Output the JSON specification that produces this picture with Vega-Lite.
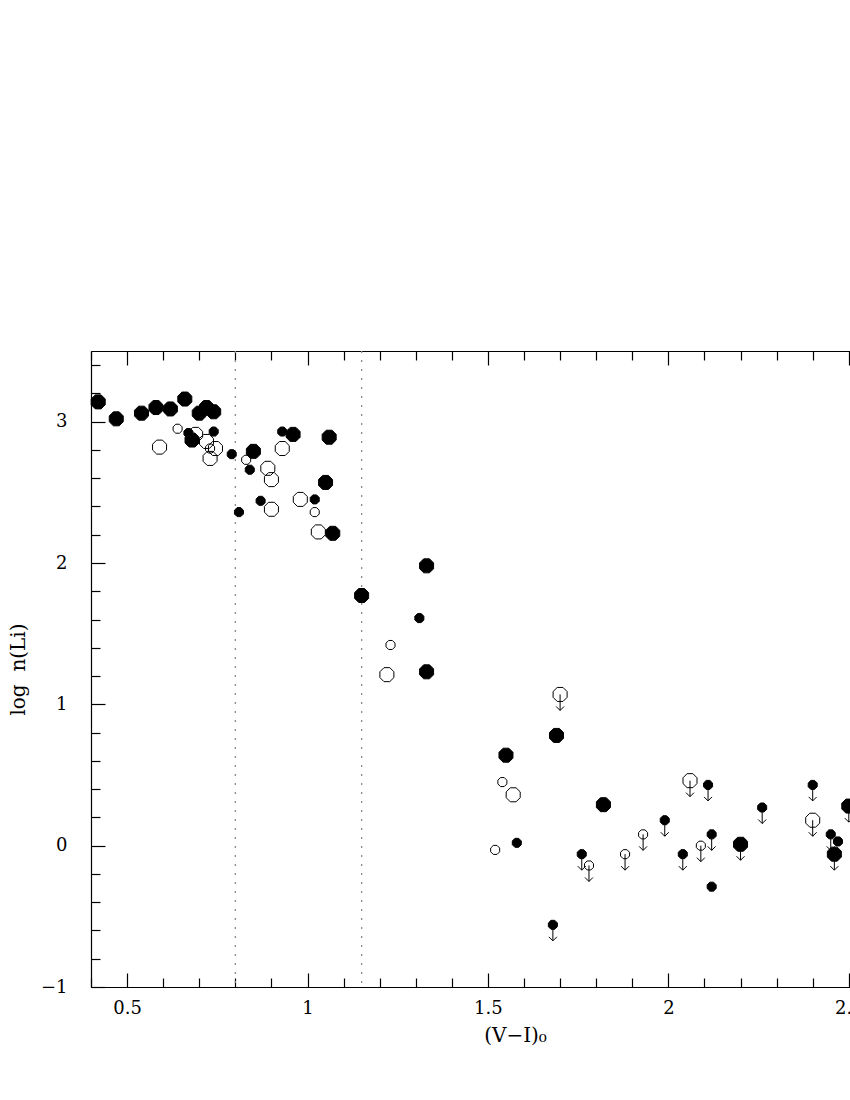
{
  "$schema": "https://vega.github.io/schema/vega-lite/v6.json",
  "width": 848,
  "height": 636,
  "padding": {"left": 8, "top": 350, "right": 0, "bottom": 5},
  "background": "white",
  "config": {
    "view": {"stroke": null},
    "axis": {
      "domainColor": "black",
      "domainWidth": 1.2,
      "tickColor": "black",
      "tickWidth": 1.2,
      "grid": false,
      "labelFont": "DejaVu Serif",
      "labelFontSize": 18,
      "labelColor": "black",
      "titleFont": "DejaVu Serif",
      "titleFontSize": 20,
      "titleFontWeight": "normal",
      "titleColor": "black"
    }
  },
  "data": {
    "values": [
      {"vi": 0.42, "logn": 3.14, "kind": "filled", "sz": "large", "lim": false},
      {"vi": 0.47, "logn": 3.02, "kind": "filled", "sz": "large", "lim": false},
      {"vi": 0.54, "logn": 3.06, "kind": "filled", "sz": "large", "lim": false},
      {"vi": 0.58, "logn": 3.10, "kind": "filled", "sz": "large", "lim": false},
      {"vi": 0.62, "logn": 3.09, "kind": "filled", "sz": "large", "lim": false},
      {"vi": 0.66, "logn": 3.16, "kind": "filled", "sz": "large", "lim": false},
      {"vi": 0.70, "logn": 3.06, "kind": "filled", "sz": "large", "lim": false},
      {"vi": 0.72, "logn": 3.10, "kind": "filled", "sz": "large", "lim": false},
      {"vi": 0.74, "logn": 3.07, "kind": "filled", "sz": "large", "lim": false},
      {"vi": 0.68, "logn": 2.87, "kind": "filled", "sz": "large", "lim": false},
      {"vi": 0.85, "logn": 2.79, "kind": "filled", "sz": "large", "lim": false},
      {"vi": 0.96, "logn": 2.91, "kind": "filled", "sz": "large", "lim": false},
      {"vi": 1.06, "logn": 2.89, "kind": "filled", "sz": "large", "lim": false},
      {"vi": 1.05, "logn": 2.57, "kind": "filled", "sz": "large", "lim": false},
      {"vi": 1.07, "logn": 2.21, "kind": "filled", "sz": "large", "lim": false},
      {"vi": 1.33, "logn": 1.98, "kind": "filled", "sz": "large", "lim": false},
      {"vi": 1.15, "logn": 1.77, "kind": "filled", "sz": "large", "lim": false},
      {"vi": 1.33, "logn": 1.23, "kind": "filled", "sz": "large", "lim": false},
      {"vi": 1.69, "logn": 0.78, "kind": "filled", "sz": "large", "lim": false},
      {"vi": 1.55, "logn": 0.64, "kind": "filled", "sz": "large", "lim": false},
      {"vi": 1.82, "logn": 0.29, "kind": "filled", "sz": "large", "lim": false},
      {"vi": 2.20, "logn": 0.01, "kind": "filled", "sz": "large", "lim": true},
      {"vi": 2.46, "logn": -0.06, "kind": "filled", "sz": "large", "lim": true},
      {"vi": 2.50, "logn": 0.28, "kind": "filled", "sz": "large", "lim": true},
      {"vi": 0.67, "logn": 2.92, "kind": "filled", "sz": "small", "lim": false},
      {"vi": 0.74, "logn": 2.93, "kind": "filled", "sz": "small", "lim": false},
      {"vi": 0.79, "logn": 2.77, "kind": "filled", "sz": "small", "lim": false},
      {"vi": 0.84, "logn": 2.66, "kind": "filled", "sz": "small", "lim": false},
      {"vi": 0.87, "logn": 2.44, "kind": "filled", "sz": "small", "lim": false},
      {"vi": 0.81, "logn": 2.36, "kind": "filled", "sz": "small", "lim": false},
      {"vi": 0.93, "logn": 2.93, "kind": "filled", "sz": "small", "lim": false},
      {"vi": 1.02, "logn": 2.45, "kind": "filled", "sz": "small", "lim": false},
      {"vi": 1.31, "logn": 1.61, "kind": "filled", "sz": "small", "lim": false},
      {"vi": 1.58, "logn": 0.02, "kind": "filled", "sz": "small", "lim": false},
      {"vi": 1.76, "logn": -0.06, "kind": "filled", "sz": "small", "lim": true},
      {"vi": 1.68, "logn": -0.56, "kind": "filled", "sz": "small", "lim": true},
      {"vi": 1.99, "logn": 0.18, "kind": "filled", "sz": "small", "lim": true},
      {"vi": 2.04, "logn": -0.06, "kind": "filled", "sz": "small", "lim": true},
      {"vi": 2.12, "logn": 0.08, "kind": "filled", "sz": "small", "lim": true},
      {"vi": 2.11, "logn": 0.43, "kind": "filled", "sz": "small", "lim": true},
      {"vi": 2.26, "logn": 0.27, "kind": "filled", "sz": "small", "lim": true},
      {"vi": 2.12, "logn": -0.29, "kind": "filled", "sz": "small", "lim": false},
      {"vi": 2.40, "logn": 0.43, "kind": "filled", "sz": "small", "lim": true},
      {"vi": 2.45, "logn": 0.08, "kind": "filled", "sz": "small", "lim": true},
      {"vi": 2.47, "logn": 0.03, "kind": "filled", "sz": "small", "lim": false},
      {"vi": 0.59, "logn": 2.82, "kind": "open", "sz": "large", "lim": false},
      {"vi": 0.69, "logn": 2.91, "kind": "open", "sz": "large", "lim": false},
      {"vi": 0.72, "logn": 2.86, "kind": "open", "sz": "large", "lim": false},
      {"vi": 0.745, "logn": 2.81, "kind": "open", "sz": "large", "lim": false},
      {"vi": 0.73, "logn": 2.74, "kind": "open", "sz": "large", "lim": false},
      {"vi": 0.89, "logn": 2.67, "kind": "open", "sz": "large", "lim": false},
      {"vi": 0.90, "logn": 2.59, "kind": "open", "sz": "large", "lim": false},
      {"vi": 0.90, "logn": 2.38, "kind": "open", "sz": "large", "lim": false},
      {"vi": 0.93, "logn": 2.81, "kind": "open", "sz": "large", "lim": false},
      {"vi": 0.98, "logn": 2.45, "kind": "open", "sz": "large", "lim": false},
      {"vi": 1.03, "logn": 2.22, "kind": "open", "sz": "large", "lim": false},
      {"vi": 1.22, "logn": 1.21, "kind": "open", "sz": "large", "lim": false},
      {"vi": 1.57, "logn": 0.36, "kind": "open", "sz": "large", "lim": false},
      {"vi": 1.70, "logn": 1.07, "kind": "open", "sz": "large", "lim": true},
      {"vi": 2.06, "logn": 0.46, "kind": "open", "sz": "large", "lim": true},
      {"vi": 2.40, "logn": 0.18, "kind": "open", "sz": "large", "lim": true},
      {"vi": 0.64, "logn": 2.95, "kind": "open", "sz": "small", "lim": false},
      {"vi": 0.73, "logn": 2.81, "kind": "open", "sz": "small", "lim": false},
      {"vi": 0.83, "logn": 2.73, "kind": "open", "sz": "small", "lim": false},
      {"vi": 1.02, "logn": 2.36, "kind": "open", "sz": "small", "lim": false},
      {"vi": 1.23, "logn": 1.42, "kind": "open", "sz": "small", "lim": false},
      {"vi": 1.54, "logn": 0.45, "kind": "open", "sz": "small", "lim": false},
      {"vi": 1.52, "logn": -0.03, "kind": "open", "sz": "small", "lim": false},
      {"vi": 1.78, "logn": -0.14, "kind": "open", "sz": "small", "lim": true},
      {"vi": 1.88, "logn": -0.06, "kind": "open", "sz": "small", "lim": true},
      {"vi": 1.93, "logn": 0.08, "kind": "open", "sz": "small", "lim": true},
      {"vi": 2.09, "logn": 0.00, "kind": "open", "sz": "small", "lim": true}
    ]
  },
  "resolve": {"axis": {"x": "independent", "y": "independent"}},
  "layer": [
    {
      "data": {"values": [{"vline": 0.8}, {"vline": 1.15}]},
      "mark": {"type": "rule", "color": "#8a8a8a", "strokeDash": [2, 7], "strokeWidth": 1.3},
      "encoding": {
        "x": {
          "field": "vline", "type": "quantitative",
          "scale": {"domain": [0.4, 2.75], "nice": false, "zero": false},
          "axis": {
            "orient": "bottom",
            "title": "(V−I)₀",
            "titlePadding": 3,
            "titleX": 424,
            "values": [0.4,0.5,0.6,0.7,0.8,0.9,1,1.1,1.2,1.3,1.4,1.5,1.6,1.7,1.8,1.9,2,2.1,2.2,2.3,2.4,2.5,2.6,2.7],
            "labelExpr": "abs(datum.value*2 - round(datum.value*2)) < 1e-6 ? '' + datum.value : ''",
            "tickSize": {"condition": {"test": "abs(datum.value*2 - round(datum.value*2)) < 1e-6", "value": -14}, "value": -9},
            "labelPadding": 26,
            "labelFlush": false,
            "labelOverlap": false
          }
        }
      }
    },
    {
      "transform": [{"filter": "datum.lim"}],
      "mark": {"type": "point", "shape": "M0,0L0,2M-0.5,1.5L0,2L0.5,1.5", "size": 256, "filled": false, "stroke": "black", "strokeWidth": 1, "opacity": 1},
      "encoding": {
        "x": {"field": "vi", "type": "quantitative", "axis": null},
        "y": {
          "field": "logn", "type": "quantitative",
          "scale": {"domain": [-1, 3.5], "nice": false, "zero": false},
          "axis": {
            "orient": "left",
            "title": "log\u00a0\u00a0n(Li)",
            "titlePadding": 12,
            "values": [-1,-0.8,-0.6,-0.4,-0.2,0,0.2,0.4,0.6,0.8,1,1.2,1.4,1.6,1.8,2,2.2,2.4,2.6,2.8,3,3.2,3.4],
            "labelExpr": "abs(datum.value - round(datum.value)) < 1e-6 ? (datum.value < 0 ? '−' + abs(datum.value) : '' + datum.value) : ''",
            "tickSize": {"condition": {"test": "abs(datum.value - round(datum.value)) < 1e-6", "value": -14}, "value": -9},
            "labelPadding": 38,
            "labelFlush": false,
            "labelOverlap": false
          }
        }
      }
    },
    {
      "mark": {"type": "point", "shape": "M-0.414,-1L0.414,-1L1,-0.414L1,0.414L0.414,1L-0.414,1L-1,0.414L-1,-0.414Z", "filled": true, "stroke": "black", "strokeWidth": 1, "color": "black", "opacity": 1},
      "encoding": {
        "x": {
          "field": "vi", "type": "quantitative",
          "axis": {
            "orient": "top",
            "title": null,
            "labels": false,
            "values": [0.4,0.5,0.6,0.7,0.8,0.9,1,1.1,1.2,1.3,1.4,1.5,1.6,1.7,1.8,1.9,2,2.1,2.2,2.3,2.4,2.5,2.6,2.7],
            "tickSize": {"condition": {"test": "abs(datum.value*2 - round(datum.value*2)) < 1e-6", "value": -14}, "value": -9}
          }
        },
        "y": {
          "field": "logn", "type": "quantitative",
          "axis": {
            "orient": "right",
            "title": null,
            "labels": false,
            "values": [-1,-0.8,-0.6,-0.4,-0.2,0,0.2,0.4,0.6,0.8,1,1.2,1.4,1.6,1.8,2,2.2,2.4,2.6,2.8,3,3.2,3.4],
            "tickSize": {"condition": {"test": "abs(datum.value - round(datum.value)) < 1e-6", "value": -14}, "value": -9}
          }
        },
        "fillOpacity": {"field": "kind", "type": "nominal", "scale": {"domain": ["filled", "open"], "range": [1, 0]}, "legend": null},
        "size": {"field": "sz", "type": "nominal", "scale": {"domain": ["large", "small"], "range": [196, 81]}, "legend": null}
      }
    }
  ]
}
